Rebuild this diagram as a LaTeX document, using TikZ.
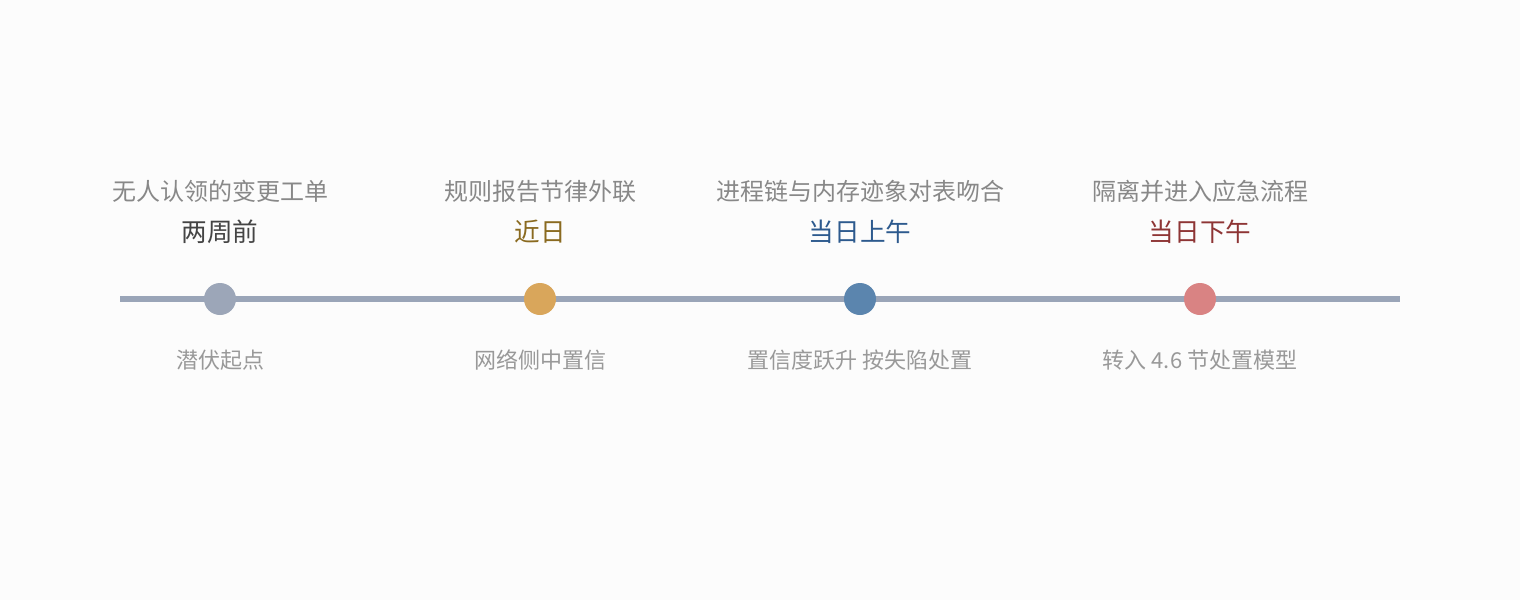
\documentclass[tikz,border=0pt]{standalone}
\usepackage{fontspec}
\setmainfont{Noto Sans CJK SC}
\usetikzlibrary{positioning}
\definecolor{bgc}{HTML}{FCFCFC}
\definecolor{linec}{HTML}{9AA5B8}
\definecolor{titlec}{HTML}{888888}
\definecolor{notec}{HTML}{999999}
\definecolor{dotA}{HTML}{9CA6B8}
\definecolor{dotB}{HTML}{D9A65B}
\definecolor{dotC}{HTML}{5B85AE}
\definecolor{dotD}{HTML}{D98383}
\definecolor{whenA}{HTML}{444444}
\definecolor{whenB}{HTML}{8A6A20}
\definecolor{whenC}{HTML}{2D5A8E}
\definecolor{whenD}{HTML}{8E3535}
\tikzset{
  evdot/.style={circle,inner sep=0pt,minimum size=16pt},
  evtitle/.style={inner sep=0pt,text=titlec,font=\fontsize{12pt}{14pt}\selectfont},
  evwhen/.style={inner sep=0pt,font=\fontsize{12.8pt}{15pt}\selectfont},
  evnote/.style={inner sep=0pt,text=notec,font=\fontsize{11pt}{13pt}\selectfont}
}

\begin{document}
\begin{tikzpicture}[x=0.5pt,y=-0.5pt]
        \fill[bgc] (0,0) rectangle (1520,600);
        \coordinate (lineL) at (120,299);
        \coordinate (lineR) at (1400,299);
        \draw[linec,line width=3pt] (lineL) -- (lineR);
        %events
        \foreach \i/\x/\title/\when/\note in {
            A/220/无人认领的变更工单/两周前/潜伏起点,
            B/540/规则报告节律外联/近日/网络侧中置信,
            C/860/进程链与内存迹象对表吻合/当日上午/置信度跃升 按失陷处置,
            D/1200/隔离并进入应急流程/当日下午/转入 4.6 节处置模型} {
        \node[evdot,fill=dot\i] (dot\i) at (\x,299) {};
        \node[evwhen,text=when\i] (when\i) at (\x,232) {\when};
        \node[evtitle] (title\i) at (\x,191) {\title};
        \node[evnote] (note\i) at (\x,360) {\note};}
    \end{tikzpicture}
\end{document}
